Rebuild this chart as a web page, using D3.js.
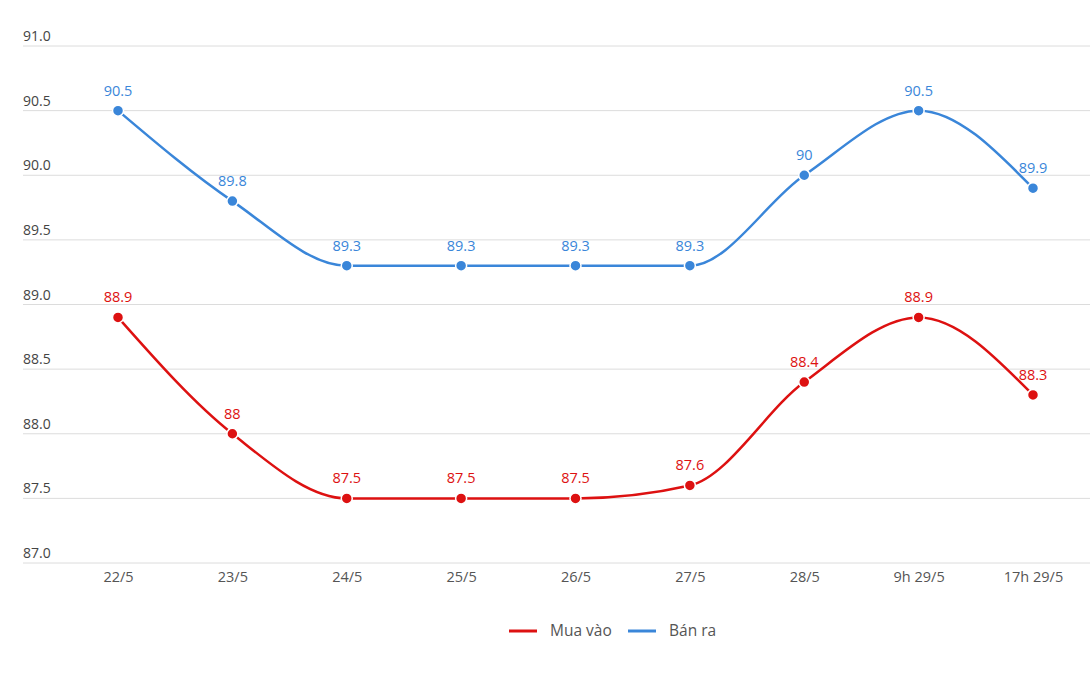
<!DOCTYPE html>
<html><head><meta charset="utf-8">
<script src="https://cdn.jsdelivr.net/npm/d3@7"></script>
<style>body{margin:0;background:#fff}svg{display:block}</style>
</head><body>
<svg id="c" width="1090" height="697"></svg>
<script>
const categories = ["22/5","23/5","24/5","25/5","26/5","27/5","28/5","9h 29/5","17h 29/5"];
const buyValues = [88.9, 88, 87.5, 87.5, 87.5, 87.6, 88.4, 88.9, 88.3];
const sellValues = [90.5, 89.8, 89.3, 89.3, 89.3, 89.3, 90, 90.5, 89.9];
const buyLabels = ["88.9","88","87.5","87.5","87.5","87.6","88.4","88.9","88.3"];
const sellLabels = ["90.5","89.8","89.3","89.3","89.3","89.3","90","90.5","89.9"];
const yTicks = [87.0, 87.5, 88.0, 88.5, 89.0, 89.5, 90.0, 90.5, 91.0];
const seriesNames = ["Mua vào", "Bán ra"];

const svg = d3.select("#c");
const font = "'Open Sans', sans-serif";
const x = d3.scalePoint().domain(categories).range([118, 1033]);
const y = d3.scaleLinear().domain([87, 91]).range([563, 46]);

// grid
const grid = svg.append("g");
grid.selectAll("line").data(yTicks).join("line")
  .attr("x1", 23).attr("x2", 1090)
  .attr("y1", d => y(d)).attr("y2", d => y(d))
  .attr("stroke", "#dcdcdc").attr("stroke-width", 1);
grid.selectAll("text").data(yTicks).join("text")
  .attr("x", 23).attr("y", d => y(d) - 5)
  .attr("font-family", font).attr("font-size", 14).attr("fill", "#444")
  .text(d => d.toFixed(1));

// x axis
const xAxis = svg.append("g").attr("transform", "translate(0,563)")
  .call(d3.axisBottom(x).tickSize(0).tickPadding(9));
xAxis.select(".domain").remove();
xAxis.selectAll("text").attr("font-family", font).attr("font-size", 14.5).attr("fill", "#555");

const series = [
  {name: seriesNames[0], values: buyValues, labels: buyLabels, color: "#dd1111"},
  {name: seriesNames[1], values: sellValues, labels: sellLabels, color: "#3a86d9"}
];
const line = d3.line().x((d, i) => x(categories[i])).y(d => y(d)).curve(d3.curveMonotoneX);

series.forEach(s => {
  const g = svg.append("g");
  g.append("path").datum(s.values).attr("d", line)
    .attr("fill", "none").attr("stroke", s.color).attr("stroke-width", 2.5);
  g.selectAll("circle").data(s.values).join("circle")
    .attr("cx", (d, i) => x(categories[i])).attr("cy", d => y(d)).attr("r", 5.5)
    .attr("fill", s.color).attr("stroke", "#fff").attr("stroke-width", 1.5);
  g.selectAll("text").data(s.values).join("text")
    .attr("x", (d, i) => x(categories[i])).attr("y", d => y(d) - 15)
    .attr("text-anchor", "middle").attr("font-family", font).attr("font-size", 14.5)
    .attr("fill", s.color).text((d, i) => s.labels[i]);
});

// legend
const legend = svg.append("g");
const lx = [509, 628];
series.forEach((s, i) => {
  legend.append("line").attr("x1", lx[i]).attr("x2", lx[i] + 28)
    .attr("y1", 631).attr("y2", 631).attr("stroke", s.color).attr("stroke-width", 3);
  legend.append("text").attr("x", lx[i] + 41).attr("y", 636)
    .attr("font-family", font).attr("font-size", 15.5).attr("fill", "#555")
    .text(s.name);
});
</script>
</body></html>
